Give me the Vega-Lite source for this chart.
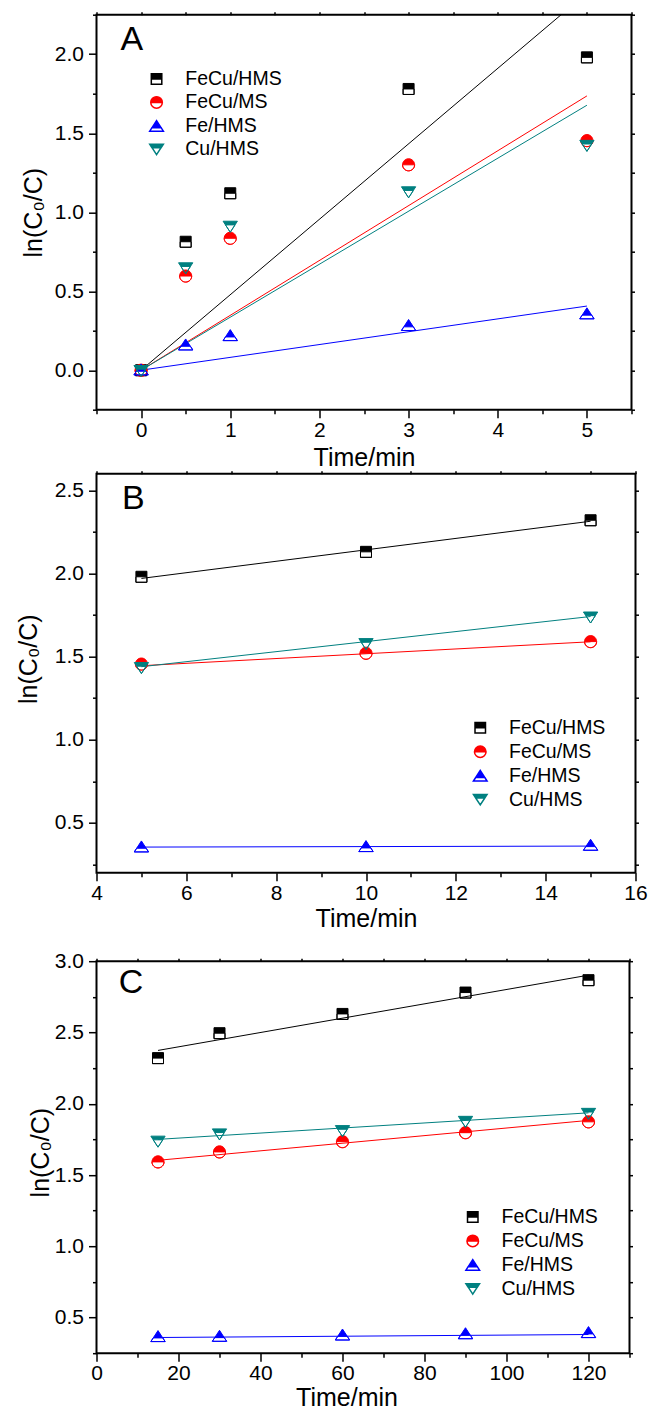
{
  "$schema": "https://vega.github.io/schema/vega-lite/v6.json",
  "background": "white",
  "padding": {"left": 15.5, "top": 2.7, "right": 0, "bottom": 0},
  "config": {
    "font": "Liberation Sans",
    "view": {"stroke": "black", "strokeWidth": 2},
    "axis": {"domain": false, "grid": false, "tickColor": "black", "tickWidth": 1.5, "labelColor": "black", "labelFont": "Liberation Sans", "labelFontSize": 21, "titleFont": "Liberation Sans", "titleFontSize": 25, "titleFontWeight": "normal", "titleColor": "black", "labelPadding": 5, "labelFlush": false, "labelOverlap": false},
    "legend": {"labelFont": "Liberation Sans", "labelColor": "black", "labelFontSize": 19.5, "symbolSize": 110, "labelOffset": 19, "padding": 0, "rowPadding": 3, "titlePadding": 0}
  },
  "datasets": {
    "a_pts": [
      {"t": 0, "v": 0, "s": "FeCu/HMS"}, {"t": 0.5, "v": 0.813, "s": "FeCu/HMS"}, {"t": 1, "v": 1.12, "s": "FeCu/HMS"}, {"t": 3, "v": 1.78, "s": "FeCu/HMS"}, {"t": 5, "v": 1.98, "s": "FeCu/HMS"},
      {"t": 0, "v": 0, "s": "FeCu/MS"}, {"t": 0.5, "v": 0.596, "s": "FeCu/MS"}, {"t": 1, "v": 0.835, "s": "FeCu/MS"}, {"t": 3, "v": 1.3, "s": "FeCu/MS"}, {"t": 5, "v": 1.453, "s": "FeCu/MS"},
      {"t": 0, "v": 0.005, "s": "Fe/HMS"}, {"t": 0.5, "v": 0.163, "s": "Fe/HMS"}, {"t": 1, "v": 0.222, "s": "Fe/HMS"}, {"t": 3, "v": 0.286, "s": "Fe/HMS"}, {"t": 5, "v": 0.36, "s": "Fe/HMS"},
      {"t": 0, "v": -0.005, "s": "Cu/HMS"}, {"t": 0.5, "v": 0.645, "s": "Cu/HMS"}, {"t": 1, "v": 0.908, "s": "Cu/HMS"}, {"t": 3, "v": 1.126, "s": "Cu/HMS"}, {"t": 5, "v": 1.42, "s": "Cu/HMS"}
    ],
    "a_fit": [
      {"t": 0, "v": 0, "s": "FeCu/HMS"}, {"t": 5, "v": 2.388, "s": "FeCu/HMS"},
      {"t": 0, "v": 0, "s": "FeCu/MS"}, {"t": 5, "v": 1.736, "s": "FeCu/MS"},
      {"t": 0, "v": 0, "s": "Fe/HMS"}, {"t": 5, "v": 0.406, "s": "Fe/HMS"},
      {"t": 0, "v": 0, "s": "Cu/HMS"}, {"t": 5, "v": 1.677, "s": "Cu/HMS"}
    ],
    "b_pts": [
      {"t": 5, "v": 1.98, "s": "FeCu/HMS"}, {"t": 10, "v": 2.13, "s": "FeCu/HMS"}, {"t": 15, "v": 2.32, "s": "FeCu/HMS"},
      {"t": 5, "v": 1.455, "s": "FeCu/MS"}, {"t": 10, "v": 1.52, "s": "FeCu/MS"}, {"t": 15, "v": 1.59, "s": "FeCu/MS"},
      {"t": 5, "v": 0.358, "s": "Fe/HMS"}, {"t": 10, "v": 0.36, "s": "Fe/HMS"}, {"t": 15, "v": 0.368, "s": "Fe/HMS"},
      {"t": 5, "v": 1.431, "s": "Cu/HMS"}, {"t": 10, "v": 1.575, "s": "Cu/HMS"}, {"t": 15, "v": 1.735, "s": "Cu/HMS"}
    ],
    "b_fit": [
      {"t": 5, "v": 1.97, "s": "FeCu/HMS"}, {"t": 15, "v": 2.314, "s": "FeCu/HMS"},
      {"t": 5, "v": 1.445, "s": "FeCu/MS"}, {"t": 15, "v": 1.589, "s": "FeCu/MS"},
      {"t": 5, "v": 0.354, "s": "Fe/HMS"}, {"t": 15, "v": 0.36, "s": "Fe/HMS"},
      {"t": 5, "v": 1.439, "s": "Cu/HMS"}, {"t": 15, "v": 1.741, "s": "Cu/HMS"}
    ],
    "c_pts": [
      {"t": 15, "v": 2.32, "s": "FeCu/HMS"}, {"t": 30, "v": 2.495, "s": "FeCu/HMS"}, {"t": 60, "v": 2.63, "s": "FeCu/HMS"}, {"t": 90, "v": 2.78, "s": "FeCu/HMS"}, {"t": 120, "v": 2.867, "s": "FeCu/HMS"},
      {"t": 15, "v": 1.592, "s": "FeCu/MS"}, {"t": 30, "v": 1.662, "s": "FeCu/MS"}, {"t": 60, "v": 1.734, "s": "FeCu/MS"}, {"t": 90, "v": 1.797, "s": "FeCu/MS"}, {"t": 120, "v": 1.873, "s": "FeCu/MS"},
      {"t": 15, "v": 0.37, "s": "Fe/HMS"}, {"t": 30, "v": 0.372, "s": "Fe/HMS"}, {"t": 60, "v": 0.381, "s": "Fe/HMS"}, {"t": 90, "v": 0.39, "s": "Fe/HMS"}, {"t": 120, "v": 0.398, "s": "Fe/HMS"},
      {"t": 15, "v": 1.734, "s": "Cu/HMS"}, {"t": 30, "v": 1.785, "s": "Cu/HMS"}, {"t": 60, "v": 1.808, "s": "Cu/HMS"}, {"t": 90, "v": 1.873, "s": "Cu/HMS"}, {"t": 120, "v": 1.929, "s": "Cu/HMS"}
    ],
    "c_fit": [
      {"t": 15, "v": 2.374, "s": "FeCu/HMS"}, {"t": 120, "v": 2.902, "s": "FeCu/HMS"},
      {"t": 15, "v": 1.603, "s": "FeCu/MS"}, {"t": 120, "v": 1.883, "s": "FeCu/MS"},
      {"t": 15, "v": 0.36, "s": "Fe/HMS"}, {"t": 120, "v": 0.381, "s": "Fe/HMS"},
      {"t": 15, "v": 1.75, "s": "Cu/HMS"}, {"t": 120, "v": 1.936, "s": "Cu/HMS"}
    ]
  },
  "resolve": {
    "scale": {"shape": "independent", "fill": "independent", "stroke": "independent", "color": "independent"},
    "legend": {"shape": "independent", "fill": "independent", "stroke": "independent", "color": "independent"}
  },
  "spacing": 16.5,
  "vconcat": [
    {
      "resolve": {
        "scale": {"shape": "independent", "fill": "independent", "stroke": "independent", "color": "independent"},
        "legend": {"shape": "independent", "fill": "independent", "stroke": "independent", "color": "independent"}
      },
      "spacing": -3,
      "vconcat": [
        {
          "width": 535,
          "height": 395,
          "resolve": {"axis": {"x": "independent", "y": "independent"}, "legend": {"color": "independent"}},
          "layer": [
            {
              "data": {"name": "a_fit"},
              "mark": {"type": "line", "clip": true, "strokeWidth": 1},
              "encoding": {
                "x": {"field": "t", "type": "quantitative", "scale": {"domain": [-0.5, 5.5], "nice": false, "zero": false},
                      "axis": {"orient": "top", "values": [-0.5, 0, 0.5, 1, 1.5, 2, 2.5, 3, 3.5, 4, 4.5, 5, 5.5], "labels": false, "tickSize": 3, "title": null}},
                "y": {"field": "v", "type": "quantitative", "scale": {"domain": [-0.25, 2.25], "nice": false, "zero": false},
                      "axis": {"orient": "right", "values": [-0.25, 0, 0.25, 0.5, 0.75, 1, 1.25, 1.5, 1.75, 2, 2.25], "labels": false, "tickSize": 3, "title": null}},
                "color": {"field": "s", "type": "nominal", "scale": {"domain": ["FeCu/HMS", "FeCu/MS", "Fe/HMS", "Cu/HMS"], "range": ["#000000", "#ff0000", "#0000ff", "#008080"]}, "legend": null}
              }
            },
            {
              "data": {"name": "a_pts"},
              "mark": {"type": "point", "filled": true, "opacity": 1, "size": 121, "strokeWidth": 1},
              "encoding": {
                "x": {"field": "t", "type": "quantitative", "scale": {"domain": [-0.5, 5.5], "nice": false, "zero": false},
                      "axis": {"orient": "bottom", "values": [-0.5, 0, 0.5, 1, 1.5, 2, 2.5, 3, 3.5, 4, 4.5, 5, 5.5],
                               "labelExpr": "datum.value % 1 === 0 ? format(datum.value, 'd') : ''",
                               "tickSize": {"condition": {"test": "datum.value % 1 === 0", "value": 8}, "value": 4},
                               "labelPadding": 2, "title": "Time/min", "titlePadding": 4.5}},
                "y": {"field": "v", "type": "quantitative", "scale": {"domain": [-0.25, 2.25], "nice": false, "zero": false},
                      "axis": {"orient": "left", "values": [-0.25, 0, 0.25, 0.5, 0.75, 1, 1.25, 1.5, 1.75, 2, 2.25],
                               "labelExpr": "datum.value % 0.5 === 0 ? format(datum.value, '.1f') : ''",
                               "tickSize": {"condition": {"test": "datum.value % 0.5 === 0", "value": 8}, "value": 4},
                               "title": "ln(C₀/C)", "titleX": -50.5}},
                "shape": {"field": "s", "type": "nominal",
                          "scale": {"domain": ["FeCu/HMS", "FeCu/MS", "Fe/HMS", "Cu/HMS"],
                                    "range": ["M-1,-1H1V0H-1Z M-1,0V1H1V0V1H-1Z",
                                              "M-1.1,0C-1.1,-0.6075 -0.6075,-1.1 0,-1.1C0.6075,-1.1 1.1,-0.6075 1.1,0Z M-1.1,0C-1.1,0.6075 -0.6075,1.1 0,1.1C0.6075,1.1 1.1,0.6075 1.1,0C1.1,0.6075 0.6075,1.1 0,1.1C-0.6075,1.1 -1.1,0.6075 -1.1,0Z",
                                              "M0,-1L0.867,0.333H-0.867Z M-0.867,0.333L-1.3,1H1.3L0.867,0.333L1.3,1H-1.3Z",
                                              "M-1.3,-1H1.3L0.867,-0.333H-0.867Z M-0.867,-0.333L0,1L0.867,-0.333L0,1Z"]},
                          "legend": {"orient": "none", "legendX": 50.3, "legendY": 54.5, "title": null, "symbolSize": 110, "labelFontSize": 19.5, "labelOffset": 19, "rowPadding": 2.5, "padding": 0}},
                "fill": {"field": "s", "type": "nominal", "scale": {"domain": ["FeCu/HMS", "FeCu/MS", "Fe/HMS", "Cu/HMS"], "range": ["#000000", "#ff0000", "#0000ff", "#008080"]},
                         "legend": {"orient": "none", "legendX": 50.3, "legendY": 54.5, "title": null, "symbolSize": 110, "labelFontSize": 19.5, "labelOffset": 19, "rowPadding": 2.5, "padding": 0}},
                "stroke": {"field": "s", "type": "nominal", "scale": {"domain": ["FeCu/HMS", "FeCu/MS", "Fe/HMS", "Cu/HMS"], "range": ["#000000", "#ff0000", "#0000ff", "#008080"]},
                           "legend": {"orient": "none", "legendX": 50.3, "legendY": 54.5, "title": null, "symbolSize": 110, "labelFontSize": 19.5, "labelOffset": 19, "rowPadding": 2.5, "padding": 0}}
              }
            },
            {
              "data": {"values": [{}]},
              "mark": {"type": "text", "text": "A", "fontSize": 34, "align": "center", "baseline": "alphabetic", "color": "black"},
              "encoding": {
                "x": {"datum": -0.103, "type": "quantitative", "axis": null},
                "y": {"datum": 2.027, "type": "quantitative", "axis": null}
              }
            }
          ]
        },
        {
          "width": 539,
          "height": 399,
          "resolve": {"axis": {"x": "independent", "y": "independent"}, "legend": {"color": "independent"}},
          "layer": [
            {
              "data": {"name": "b_fit"},
              "mark": {"type": "line", "clip": true, "strokeWidth": 1},
              "encoding": {
                "x": {"field": "t", "type": "quantitative", "scale": {"domain": [4, 16], "nice": false, "zero": false},
                      "axis": {"orient": "top", "values": [4, 5, 6, 7, 8, 9, 10, 11, 12, 13, 14, 15, 16], "labels": false, "tickSize": 3, "title": null}},
                "y": {"field": "v", "type": "quantitative", "scale": {"domain": [0.2, 2.6], "nice": false, "zero": false},
                      "axis": {"orient": "right", "values": [0.25, 0.5, 0.75, 1, 1.25, 1.5, 1.75, 2, 2.25, 2.5], "labels": false, "tickSize": 3, "title": null}},
                "color": {"field": "s", "type": "nominal", "scale": {"domain": ["FeCu/HMS", "FeCu/MS", "Fe/HMS", "Cu/HMS"], "range": ["#000000", "#ff0000", "#0000ff", "#008080"]}, "legend": null}
              }
            },
            {
              "data": {"name": "b_pts"},
              "mark": {"type": "point", "filled": true, "opacity": 1, "size": 121, "strokeWidth": 1},
              "encoding": {
                "x": {"field": "t", "type": "quantitative", "scale": {"domain": [4, 16], "nice": false, "zero": false},
                      "axis": {"orient": "bottom", "values": [4, 5, 6, 7, 8, 9, 10, 11, 12, 13, 14, 15, 16],
                               "labelExpr": "datum.value % 2 === 0 ? format(datum.value, 'd') : ''",
                               "tickSize": {"condition": {"test": "datum.value % 2 === 0", "value": 8}, "value": 4},
                               "labelPadding": 2, "title": "Time/min", "titlePadding": 2.5}},
                "y": {"field": "v", "type": "quantitative", "scale": {"domain": [0.2, 2.6], "nice": false, "zero": false},
                      "axis": {"orient": "left", "values": [0.25, 0.5, 0.75, 1, 1.25, 1.5, 1.75, 2, 2.25, 2.5],
                               "labelExpr": "datum.value % 0.5 === 0 ? format(datum.value, '.1f') : ''",
                               "tickSize": {"condition": {"test": "datum.value % 0.5 === 0", "value": 8}, "value": 4},
                               "title": "ln(C₀/C)", "titleX": -55, "titleY": 185}},
                "shape": {"field": "s", "type": "nominal",
                          "scale": {"domain": ["FeCu/HMS", "FeCu/MS", "Fe/HMS", "Cu/HMS"],
                                    "range": ["M-1,-1H1V0H-1Z M-1,0V1H1V0V1H-1Z",
                                              "M-1.1,0C-1.1,-0.6075 -0.6075,-1.1 0,-1.1C0.6075,-1.1 1.1,-0.6075 1.1,0Z M-1.1,0C-1.1,0.6075 -0.6075,1.1 0,1.1C0.6075,1.1 1.1,0.6075 1.1,0C1.1,0.6075 0.6075,1.1 0,1.1C-0.6075,1.1 -1.1,0.6075 -1.1,0Z",
                                              "M0,-1L0.867,0.333H-0.867Z M-0.867,0.333L-1.3,1H1.3L0.867,0.333L1.3,1H-1.3Z",
                                              "M-1.3,-1H1.3L0.867,-0.333H-0.867Z M-0.867,-0.333L0,1L0.867,-0.333L0,1Z"]},
                          "legend": {"orient": "none", "legendX": 374, "legendY": 244.3, "title": null, "symbolSize": 110, "labelFontSize": 19.5, "labelOffset": 19, "rowPadding": 3, "padding": 0}},
                "fill": {"field": "s", "type": "nominal", "scale": {"domain": ["FeCu/HMS", "FeCu/MS", "Fe/HMS", "Cu/HMS"], "range": ["#000000", "#ff0000", "#0000ff", "#008080"]},
                         "legend": {"orient": "none", "legendX": 374, "legendY": 244.3, "title": null, "symbolSize": 110, "labelFontSize": 19.5, "labelOffset": 19, "rowPadding": 3, "padding": 0}},
                "stroke": {"field": "s", "type": "nominal", "scale": {"domain": ["FeCu/HMS", "FeCu/MS", "Fe/HMS", "Cu/HMS"], "range": ["#000000", "#ff0000", "#0000ff", "#008080"]},
                           "legend": {"orient": "none", "legendX": 374, "legendY": 244.3, "title": null, "symbolSize": 110, "labelFontSize": 19.5, "labelOffset": 19, "rowPadding": 3, "padding": 0}}
              }
            },
            {
              "data": {"values": [{}]},
              "mark": {"type": "text", "text": "B", "fontSize": 34, "align": "center", "baseline": "alphabetic", "color": "black"},
              "encoding": {
                "x": {"datum": 4.82, "type": "quantitative", "axis": null},
                "y": {"datum": 2.386, "type": "quantitative", "axis": null}
              }
            }
          ]
        }
      ]
    },
    {
      "width": 533,
      "height": 392,
      "resolve": {"axis": {"x": "independent", "y": "independent"}, "legend": {"color": "independent"}},
      "layer": [
        {
          "data": {"name": "c_fit"},
          "mark": {"type": "line", "clip": true, "strokeWidth": 1},
          "encoding": {
            "x": {"field": "t", "type": "quantitative", "scale": {"domain": [0, 130], "nice": false, "zero": false},
                  "axis": {"orient": "top", "values": [0, 10, 20, 30, 40, 50, 60, 70, 80, 90, 100, 110, 120, 130], "labels": false, "tickSize": 3, "title": null}},
            "y": {"field": "v", "type": "quantitative", "scale": {"domain": [0.25, 3.0], "nice": false, "zero": false},
                  "axis": {"orient": "right", "values": [0.25, 0.5, 0.75, 1, 1.25, 1.5, 1.75, 2, 2.25, 2.5, 2.75, 3], "labels": false, "tickSize": 3, "title": null}},
            "color": {"field": "s", "type": "nominal", "scale": {"domain": ["FeCu/HMS", "FeCu/MS", "Fe/HMS", "Cu/HMS"], "range": ["#000000", "#ff0000", "#0000ff", "#008080"]}, "legend": null}
          }
        },
        {
          "data": {"name": "c_pts"},
          "mark": {"type": "point", "filled": true, "opacity": 1, "size": 121, "strokeWidth": 1},
          "encoding": {
            "x": {"field": "t", "type": "quantitative", "scale": {"domain": [0, 130], "nice": false, "zero": false},
                  "axis": {"orient": "bottom", "values": [0, 10, 20, 30, 40, 50, 60, 70, 80, 90, 100, 110, 120, 130],
                           "labelExpr": "datum.value % 20 === 0 ? format(datum.value, 'd') : ''",
                           "tickSize": {"condition": {"test": "datum.value % 20 === 0", "value": 8}, "value": 4},
                           "labelPadding": 1.5, "title": "Time/min", "titlePadding": 2, "titleX": 250}},
            "y": {"field": "v", "type": "quantitative", "scale": {"domain": [0.25, 3.0], "nice": false, "zero": false},
                  "axis": {"orient": "left", "values": [0.25, 0.5, 0.75, 1, 1.25, 1.5, 1.75, 2, 2.25, 2.5, 2.75, 3],
                           "labelExpr": "datum.value % 0.5 === 0 ? format(datum.value, '.1f') : ''",
                           "tickSize": {"condition": {"test": "datum.value % 0.5 === 0", "value": 8}, "value": 4},
                           "title": "ln(C₀/C)", "titleX": -43.5, "titleY": 191}},
            "shape": {"field": "s", "type": "nominal",
                      "scale": {"domain": ["FeCu/HMS", "FeCu/MS", "Fe/HMS", "Cu/HMS"],
                                "range": ["M-1,-1H1V0H-1Z M-1,0V1H1V0V1H-1Z",
                                          "M-1.1,0C-1.1,-0.6075 -0.6075,-1.1 0,-1.1C0.6075,-1.1 1.1,-0.6075 1.1,0Z M-1.1,0C-1.1,0.6075 -0.6075,1.1 0,1.1C0.6075,1.1 1.1,0.6075 1.1,0C1.1,0.6075 0.6075,1.1 0,1.1C-0.6075,1.1 -1.1,0.6075 -1.1,0Z",
                                          "M0,-1L0.867,0.333H-0.867Z M-0.867,0.333L-1.3,1H1.3L0.867,0.333L1.3,1H-1.3Z",
                                          "M-1.3,-1H1.3L0.867,-0.333H-0.867Z M-0.867,-0.333L0,1L0.867,-0.333L0,1Z"]},
                      "legend": {"orient": "none", "legendX": 366.5, "legendY": 246, "title": null, "symbolSize": 110, "labelFontSize": 19.5, "labelOffset": 19, "rowPadding": 3, "padding": 0}},
            "fill": {"field": "s", "type": "nominal", "scale": {"domain": ["FeCu/HMS", "FeCu/MS", "Fe/HMS", "Cu/HMS"], "range": ["#000000", "#ff0000", "#0000ff", "#008080"]},
                     "legend": {"orient": "none", "legendX": 366.5, "legendY": 246, "title": null, "symbolSize": 110, "labelFontSize": 19.5, "labelOffset": 19, "rowPadding": 3, "padding": 0}},
            "stroke": {"field": "s", "type": "nominal", "scale": {"domain": ["FeCu/HMS", "FeCu/MS", "Fe/HMS", "Cu/HMS"], "range": ["#000000", "#ff0000", "#0000ff", "#008080"]},
                       "legend": {"orient": "none", "legendX": 366.5, "legendY": 246, "title": null, "symbolSize": 110, "labelFontSize": 19.5, "labelOffset": 19, "rowPadding": 3, "padding": 0}}
          }
        },
        {
          "data": {"values": [{}]},
          "mark": {"type": "text", "text": "C", "fontSize": 34, "align": "center", "baseline": "alphabetic", "color": "black"},
          "encoding": {
            "x": {"datum": 8.43, "type": "quantitative", "axis": null},
            "y": {"datum": 2.78, "type": "quantitative", "axis": null}
          }
        }
      ]
    }
  ]
}
